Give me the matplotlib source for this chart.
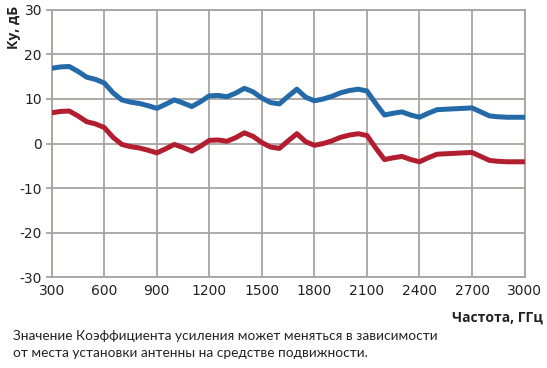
import matplotlib
matplotlib.use("Agg")
import matplotlib.pyplot as plt

plt.rcParams["axes.unicode_minus"] = False

freq = [300, 350, 400, 450, 500, 550, 600, 650, 700, 750, 800, 850, 900, 950,
        1000, 1050, 1100, 1150, 1200, 1250, 1300, 1350, 1400, 1450, 1500, 1550,
        1600, 1650, 1700, 1750, 1800, 1850, 1900, 1950, 2000, 2050, 2100, 2150,
        2200, 2250, 2300, 2350, 2400, 2450, 2500, 2550, 2600, 2650, 2700, 2750,
        2800, 2850, 2900, 2950, 3000]
gain_blue = [16.9, 17.2, 17.3, 16.2, 14.9, 14.4, 13.6, 11.4, 9.8, 9.3, 9.0, 8.5,
             7.9, 8.8, 9.8, 9.1, 8.3, 9.4, 10.7, 10.8, 10.5, 11.3, 12.4, 11.6,
             10.2, 9.2, 8.9, 10.6, 12.2, 10.4, 9.6, 10.0, 10.6, 11.4, 11.9, 12.2,
             11.8, 9.0, 6.4, 6.8, 7.1, 6.4, 5.9, 6.8, 7.6, 7.7, 7.8, 7.9, 8.0,
             7.1, 6.2, 6.0, 5.9, 5.9, 5.9]
gain_red = [6.9, 7.2, 7.3, 6.2, 4.9, 4.4, 3.6, 1.4, -0.2, -0.7, -1.0, -1.5,
            -2.1, -1.2, -0.2, -0.9, -1.7, -0.6, 0.7, 0.8, 0.5, 1.3, 2.4, 1.6,
            0.2, -0.8, -1.1, 0.6, 2.2, 0.4, -0.4, 0.0, 0.6, 1.4, 1.9, 2.2,
            1.8, -1.0, -3.6, -3.2, -2.9, -3.6, -4.1, -3.2, -2.4, -2.3, -2.2, -2.1, -2.0,
            -2.9, -3.8, -4.0, -4.1, -4.1, -4.1]
xticks = [300, 600, 900, 1200, 1500, 1800, 2100, 2400, 2700, 3000]
yticks = [-30, -20, -10, 0, 10, 20, 30]

fig = plt.figure(figsize=(5.47, 3.68), dpi=100)
ax = fig.add_axes([0.0945, 0.247, 0.8645, 0.726])

grid_c = "#a8a4a0"
ax.plot(freq, gain_blue, color="#2469a8", lw=3.6, solid_capstyle="round",
        solid_joinstyle="round", zorder=3)
ax.plot(freq, gain_red, color="#b21e30", lw=3.6, solid_capstyle="round",
        solid_joinstyle="round", zorder=3)

ax.set_xlim(300, 3000)
ax.set_ylim(-30, 30)
ax.set_xticks(xticks)
ax.set_yticks(yticks)
ax.grid(True, color=grid_c, lw=1.3)
for s in ax.spines.values():
    s.set_color(grid_c)
    s.set_linewidth(1.3)
ax.tick_params(axis="y", colors=grid_c, length=4, width=1.3, labelcolor="#222222",
               labelsize=10, pad=3)
ax.tick_params(axis="x", length=0, labelcolor="#222222", labelsize=10, pad=5)
for lab in ax.get_xticklabels() + ax.get_yticklabels():
    lab.set_family("DejaVu Sans")

fig.text(0.012, 0.985, "Ку, дБ", rotation=90, ha="left", va="top",
         fontsize=10, fontweight="bold", family="Open Sans", color="#222222")
fig.text(0.993, 0.138, "Частота, ГГц", ha="right", va="center",
         fontsize=10, fontweight="bold", family="Open Sans", color="#222222")
fig.text(0.024, 0.087, "Значение Коэффициента усиления может меняться в зависимости",
         ha="left", va="center", fontsize=9.8, family="Lato", color="#222222")
fig.text(0.024, 0.040, "от места установки антенны на средстве подвижности.",
         ha="left", va="center", fontsize=9.8, family="Lato", color="#222222")

fig.savefig("out.png", dpi=100, facecolor="white")
